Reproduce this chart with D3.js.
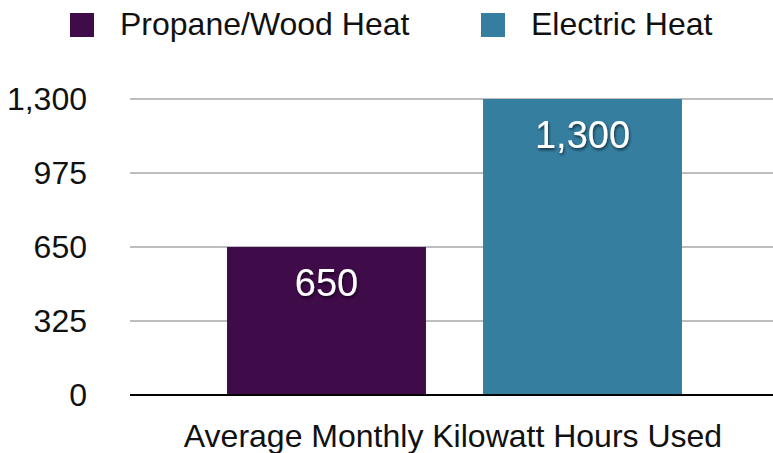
<!DOCTYPE html>
<html lang="en">
<head>
    <meta charset="UTF-8">
    <script src="https://d3js.org/d3.v7.min.js" charset="utf-8"></script>
    <title>Average Monthly Kilowatt Hours Used</title>
    <style>
        body { margin: 0; background: white; }
        svg { display: block; font-family: "Liberation Sans", Arial, sans-serif; }
    </style>
</head>
<body>
<div class="chart"></div>
<script>
    const width = 773;
    const height = 453;

    // Chart data
    const series = ["Propane/Wood Heat", "Electric Heat"];
    const values = [650, 1300];
    const colors = ["#3f0b49", "#357ea0"];
    const yTicks = [0, 325, 650, 975, 1300];
    const xLabel = "Average Monthly Kilowatt Hours Used";

    const margin = {top: 99, right: 0, bottom: 58, left: 130};

    const svg = d3.select(".chart").append("svg")
        .attr("width", width)
        .attr("height", height);

    // text shadow for bar labels
    const filter = svg.append("defs").append("filter")
        .attr("id", "shadow")
        .attr("x", "-20%").attr("y", "-20%")
        .attr("width", "140%").attr("height", "140%");
    filter.append("feDropShadow")
        .attr("dx", 1).attr("dy", 2)
        .attr("stdDeviation", 1.5)
        .attr("flood-color", "#000")
        .attr("flood-opacity", 0.6);

    const y = d3.scaleLinear()
        .domain([0, 1300])
        .range([height - margin.bottom, margin.top]);

    const x = d3.scaleBand()
        .domain(series)
        .range([margin.left, 779])
        .paddingInner(0.223)
        .paddingOuter(0.379);

    // Gridlines
    svg.append("g")
        .selectAll("line")
        .data(yTicks.filter(d => d > 0))
        .join("line")
        .attr("x1", margin.left)
        .attr("x2", width)
        .attr("y1", d => y(d))
        .attr("y2", d => y(d))
        .attr("stroke", "#bdbdbd")
        .attr("stroke-width", 2);

    // Y axis labels
    svg.append("g")
        .selectAll("text")
        .data(yTicks)
        .join("text")
        .attr("x", 87)
        .attr("y", d => y(d) + 11)
        .attr("text-anchor", "end")
        .attr("font-size", 32)
        .attr("fill", "#111")
        .text(d => d3.format(",")(d));

    // Bars
    svg.append("g")
        .selectAll("rect")
        .data(values)
        .join("rect")
        .attr("x", (d, i) => x(series[i]))
        .attr("y", d => y(d))
        .attr("width", x.bandwidth())
        .attr("height", d => y(0) - y(d))
        .attr("fill", (d, i) => colors[i]);

    // Bar labels
    svg.append("g")
        .selectAll("text")
        .data(values)
        .join("text")
        .attr("x", (d, i) => x(series[i]) + x.bandwidth() / 2)
        .attr("y", d => y(d) + 49)
        .attr("text-anchor", "middle")
        .attr("font-size", 38)
        .attr("fill", "white")
        .attr("filter", "url(#shadow)")
        .text(d => d3.format(",")(d));

    // Baseline
    svg.append("line")
        .attr("x1", margin.left)
        .attr("x2", width)
        .attr("y1", y(0))
        .attr("y2", y(0))
        .attr("stroke", "#000")
        .attr("stroke-width", 2);

    // X axis label
    svg.append("text")
        .attr("x", 453)
        .attr("y", 447)
        .attr("text-anchor", "middle")
        .attr("font-size", 32)
        .attr("fill", "#111")
        .text(xLabel);

    // Legend
    const legendX = [70, 481];
    const legend = svg.append("g")
        .selectAll("g")
        .data(series)
        .join("g")
        .attr("transform", (d, i) => `translate(${legendX[i]},13)`);
    legend.append("rect")
        .attr("width", 24)
        .attr("height", 24)
        .attr("fill", (d, i) => colors[i]);
    legend.append("text")
        .attr("x", 50)
        .attr("y", 22)
        .attr("font-size", 32)
        .attr("fill", "#111")
        .text(d => d);
</script>
</body>
</html>
